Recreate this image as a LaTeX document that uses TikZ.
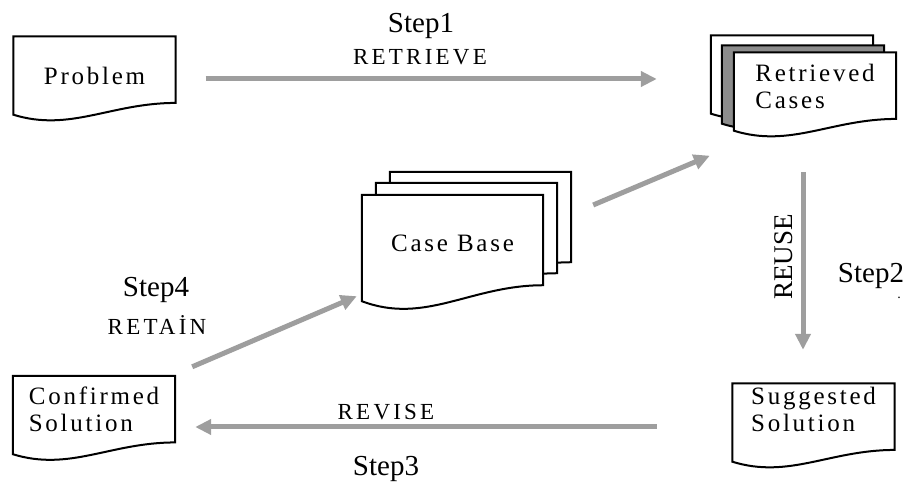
\documentclass[tikz,border=0pt]{standalone}
\usepackage{fontspec}
\setmainfont{Liberation Serif}
\newfontfamily\boxfont[LetterSpace=11]{Liberation Serif}
\newfontfamily\tagfont[LetterSpace=14]{Liberation Serif}
\usetikzlibrary{calc}
\usetikzlibrary{arrows.meta}
\usetikzlibrary{backgrounds}
\definecolor{flowgray}{RGB}{158,158,158}
\definecolor{sheetgray}{RGB}{140,140,140}

% sheet with a wavy lower edge round a node: #1 node, #2 fill, #3 #4 offset
\newcommand{\docframe}[4]{%
  \draw [line width=2pt, fill=#2] let \p1=(#1.south west), \p2=(#1.north east), \n1={0.15*(\y2-\y1)} in
    ({\x1+(#3)},{\y2+(#4)}) -- ({\x2+(#3)},{\y2+(#4)}) -- ({\x2+(#3)},{\y1+\n1+(#4)})
    .. controls ({\x1+0.6*(\x2-\x1)+(#3)},{\y1+\n1+(#4)}) and ({\x1+0.35*(\x2-\x1)+(#3)},{\y1-1.5*\n1+(#4)})
    .. ({\x1+(#3)},{\y1+(#4)}) -- cycle;}

\begin{document}
\begin{tikzpicture}[x=1pt,y=1pt]
\tikzstyle{doc} = [rectangle, minimum width=162, minimum height=78, align=left, font=\boxfont\fontsize{25}{27}\selectfont]
\tikzstyle{flow} = [draw=flowgray, line width=5pt, -{Triangle[length=16pt,width=15pt]}]
\tikzstyle{steplabel} = [anchor=base, font=\fontsize{29}{32}\selectfont]
\tikzstyle{phase} = [anchor=base, font=\tagfont\fontsize{23}{26}\selectfont]

\useasboundingbox (0,0) rectangle (909,489);

\node [doc] at (94.5,413.5) (prob) {Problem};
\node [doc, text depth=10] at (815,397.5) (rc) {Retrieved\\Cases};
\node [doc, text depth=10, minimum width=181, minimum height=106] at (452.5,241) (cb) {Case Base};
\node [doc, text depth=12] at (94,74) (cs) {Confirmed\\Solution};
\node [doc, text depth=26] at (813.5,66.5) (rs) {Suggested\\Solution};

\begin{scope}[on background layer]
\docframe{prob}{white}{0}{0}
\docframe{rc}{white}{-23}{17}
\docframe{rc}{sheetgray}{-12}{7}
\docframe{rc}{white}{0}{0}
\docframe{cb}{white}{28}{23}
\docframe{cb}{white}{14}{12}
\docframe{cb}{white}{0}{0}
\docframe{cs}{white}{0}{0}
\docframe{rs}{white}{0}{0}
\end{scope}

\path [flow] ($(prob.east)+(30,-3.5)$) -- ($(prob.east -| rc.west)+(-77,-3.5)$);
\path [flow] ($(cb.east)+(50,43)$) -- ($(rc.south west)+(-24,-25)$);
\path [flow] ($(rc.south)+(-12,-41.5)$) -- ($(rc.south |- rs.north)+(-12,33.5)$);
\path [flow] ($(rs.west)+(-75.5,-4.5)$) -- ($(rs.west -| cs.east)+(20,-4.5)$);
\path [flow] ($(cs.north east)+(17,9)$) -- ($(cb.south west)+(-5,5)$);

\node [steplabel] at (421,456) (s1) {Step1};
\node [phase] at (420,424) (retrieve) {RETRIEVE};
\node [font=\fontsize{27}{30}\selectfont, rotate=90] at (784,232) (reuse) {REUSE};
\node [steplabel] at (871,206) (s2) {Step2};
\node [anchor=base, font=\fontsize{14}{16}\selectfont] at (899,190) (mark) {.};
\node [steplabel] at (156,192) (s4) {Step4};
\node [phase] at (157,154) (retain) {RETAİN};
\node [phase] at (386,69) (revise) {REVISE};
\node [steplabel] at (386,13) (s3) {Step3};

\end{tikzpicture}
\end{document}
